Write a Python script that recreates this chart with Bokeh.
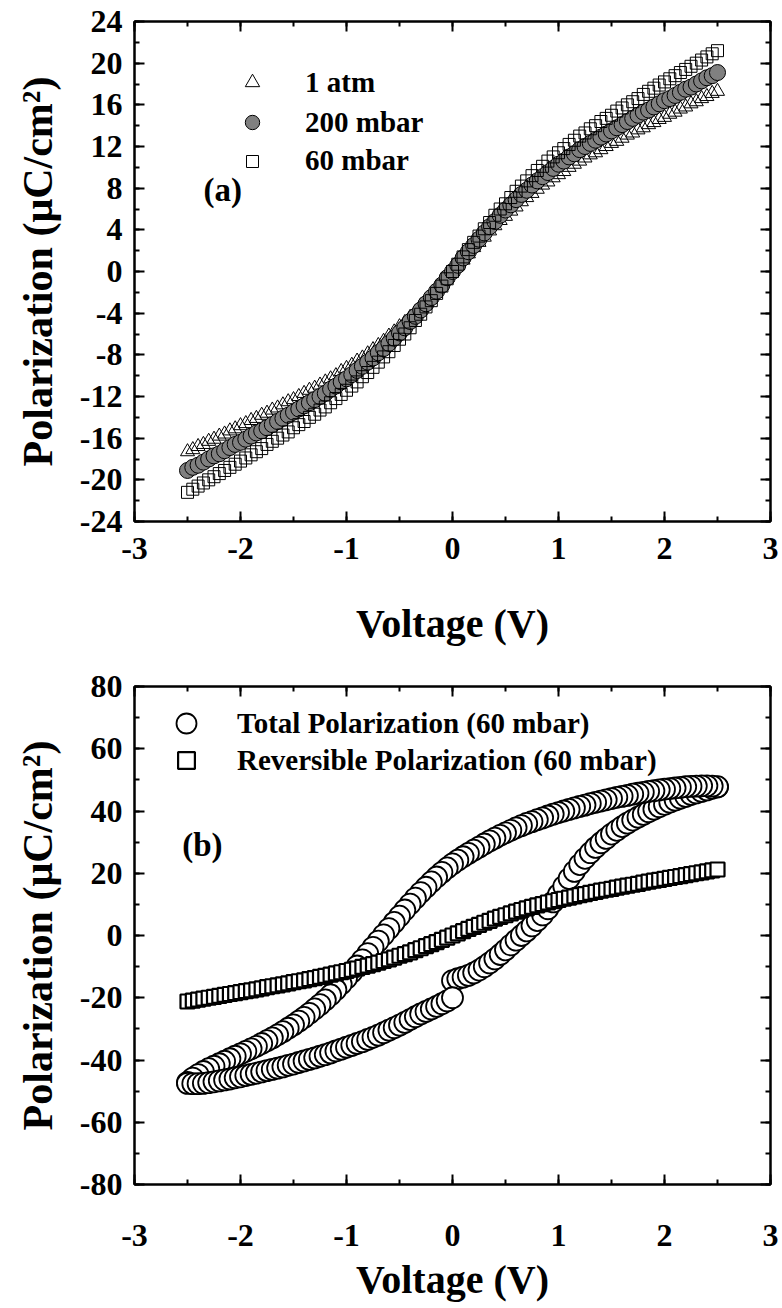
from bokeh.plotting import figure
from bokeh.models import (Range1d, SingleIntervalTicker, LinearAxis, Legend,
                          LegendItem, Label, ColumnDataSource,
                          PrintfTickFormatter, CustomJSTickFormatter)
from bokeh.layouts import column
from bokeh.embed import file_html
from bokeh.resources import INLINE

FONT = "Liberation Serif"

# ---------------- data ----------------
voltage = [-2.5, -2.45, -2.4, -2.35, -2.3, -2.25, -2.2, -2.15, -2.1, -2.05,
           -2.0, -1.95, -1.9, -1.85, -1.8, -1.75, -1.7, -1.65, -1.6, -1.55,
           -1.5, -1.45, -1.4, -1.35, -1.3, -1.25, -1.2, -1.15, -1.1, -1.05,
           -1.0, -0.95, -0.9, -0.85, -0.8, -0.75, -0.7, -0.65, -0.6, -0.55,
           -0.5, -0.45, -0.4, -0.35, -0.3, -0.25, -0.2, -0.15, -0.1, -0.05,
           0.0, 0.05, 0.1, 0.15, 0.2, 0.25, 0.3, 0.35, 0.4, 0.45,
           0.5, 0.55, 0.6, 0.65, 0.7, 0.75, 0.8, 0.85, 0.9, 0.95,
           1.0, 1.05, 1.1, 1.15, 1.2, 1.25, 1.3, 1.35, 1.4, 1.45,
           1.5, 1.55, 1.6, 1.65, 1.7, 1.75, 1.8, 1.85, 1.9, 1.95,
           2.0, 2.05, 2.1, 2.15, 2.2, 2.25, 2.3, 2.35, 2.4, 2.45, 2.5]

p_1atm = [-17.3, -17.1, -16.8, -16.6, -16.3, -16.1, -15.8, -15.6, -15.3, -15.1,
          -14.8, -14.6, -14.3, -14.1, -13.8, -13.6, -13.3, -13.1, -12.8, -12.5,
          -12.3, -12.0, -11.7, -11.4, -11.2, -10.9, -10.6, -10.3, -10.0, -9.6,
          -9.3, -9.0, -8.6, -8.3, -7.9, -7.5, -7.1, -6.7, -6.2, -5.8,
          -5.3, -4.9, -4.4, -3.9, -3.3, -2.8, -2.3, -1.7, -1.1, -0.6,
          0.0, 0.6, 1.1, 1.7, 2.3, 2.8, 3.3, 3.9, 4.4, 4.9,
          5.3, 5.8, 6.2, 6.7, 7.1, 7.5, 7.9, 8.3, 8.6, 9.0,
          9.3, 9.6, 10.0, 10.3, 10.6, 10.9, 11.2, 11.4, 11.7, 12.0,
          12.3, 12.5, 12.8, 13.1, 13.3, 13.6, 13.8, 14.1, 14.3, 14.6,
          14.8, 15.1, 15.3, 15.6, 15.8, 16.1, 16.3, 16.6, 16.8, 17.1, 17.3]

p_200mbar = [-19.1, -18.8, -18.6, -18.3, -18.0, -17.7, -17.5, -17.2, -16.9, -16.6,
             -16.4, -16.1, -15.8, -15.5, -15.3, -15.0, -14.7, -14.4, -14.1, -13.8,
             -13.5, -13.2, -12.9, -12.6, -12.3, -12.0, -11.7, -11.3, -11.0, -10.6,
             -10.3, -9.9, -9.5, -9.1, -8.7, -8.3, -7.8, -7.4, -6.9, -6.4,
             -5.9, -5.4, -4.8, -4.3, -3.7, -3.1, -2.5, -1.9, -1.3, -0.6,
             0.0, 0.6, 1.3, 1.9, 2.5, 3.1, 3.7, 4.3, 4.8, 5.4,
             5.9, 6.4, 6.9, 7.4, 7.8, 8.3, 8.7, 9.1, 9.5, 9.9,
             10.3, 10.6, 11.0, 11.3, 11.7, 12.0, 12.3, 12.6, 12.9, 13.2,
             13.5, 13.8, 14.1, 14.4, 14.7, 15.0, 15.3, 15.5, 15.8, 16.1,
             16.4, 16.6, 16.9, 17.2, 17.5, 17.7, 18.0, 18.3, 18.6, 18.8, 19.1]

p_60mbar = [-21.2, -20.9, -20.6, -20.3, -20.0, -19.7, -19.4, -19.1, -18.8, -18.5,
            -18.2, -17.9, -17.6, -17.3, -17.0, -16.6, -16.3, -16.0, -15.7, -15.4,
            -15.0, -14.7, -14.4, -14.0, -13.7, -13.3, -13.0, -12.6, -12.2, -11.8,
            -11.4, -11.0, -10.6, -10.1, -9.7, -9.2, -8.7, -8.2, -7.7, -7.1,
            -6.5, -6.0, -5.4, -4.7, -4.1, -3.4, -2.8, -2.1, -1.4, -0.7,
            0.0, 0.7, 1.4, 2.1, 2.8, 3.4, 4.1, 4.7, 5.4, 6.0,
            6.5, 7.1, 7.7, 8.2, 8.7, 9.2, 9.7, 10.1, 10.6, 11.0,
            11.4, 11.8, 12.2, 12.6, 13.0, 13.3, 13.7, 14.0, 14.4, 14.7,
            15.0, 15.4, 15.7, 16.0, 16.3, 16.6, 17.0, 17.3, 17.6, 17.9,
            18.2, 18.5, 18.8, 19.1, 19.4, 19.7, 20.0, 20.3, 20.6, 20.9, 21.2]

# total polarization loop (60 mbar), three sweeps
v_rise_pos = voltage[50:]          # 0 -> 2.5
p_rise_pos = [-14.5, -13.9, -13.4, -12.8, -12.0, -11.1, -10.0, -8.8, -7.5, -6.1,
              -4.6, -3.0, -1.5, 0.0, 1.5, 3.1, 4.8, 6.6, 8.6, 10.8,
              13.2, 15.8, 18.3, 20.6, 22.8, 24.8, 26.6, 28.3, 29.8, 31.2,
              32.6, 33.8, 35.0, 36.1, 37.1, 38.0, 38.9, 39.8, 40.6, 41.4,
              42.1, 42.8, 43.5, 44.1, 44.7, 45.3, 45.8, 46.3, 46.8, 47.3, 47.7]
v_fall = voltage[::-1]             # 2.5 -> -2.5
p_fall = [47.8, 48.0, 48.1, 48.1, 48.0, 47.9, 47.8, 47.6, 47.4, 47.2,
          47.0, 46.8, 46.5, 46.3, 46.0, 45.7, 45.4, 45.0, 44.7, 44.4,
          44.0, 43.6, 43.2, 42.8, 42.4, 41.9, 41.5, 41.0, 40.5, 40.0,
          39.5, 39.0, 38.4, 37.8, 37.2, 36.6, 36.0, 35.3, 34.6, 33.8,
          33.0, 32.2, 31.3, 30.4, 29.4, 28.4, 27.4, 26.4, 25.3, 24.2,
          23.0, 21.7, 20.3, 18.8, 17.2, 15.5, 13.8, 12.0, 10.1, 8.2,
          6.2, 4.2, 2.2, 0.2, -1.8, -3.8, -5.8, -7.8, -9.8, -11.8,
          -13.7, -15.6, -17.4, -19.1, -20.7, -22.2, -23.6, -25.0, -26.3, -27.5,
          -28.7, -29.8, -30.9, -31.9, -32.9, -33.8, -34.7, -35.6, -36.4, -37.2,
          -38.0, -38.8, -39.6, -40.4, -41.2, -42.0, -42.8, -43.7, -44.7, -45.8, -47.2]
v_rise_neg = voltage[:51]          # -2.5 -> 0
p_rise_neg = [-47.5, -47.6, -47.6, -47.5, -47.3, -47.0, -46.7, -46.4, -46.1, -45.7,
              -45.4, -45.0, -44.6, -44.2, -43.8, -43.4, -43.0, -42.6, -42.2, -41.7,
              -41.3, -40.8, -40.3, -39.8, -39.3, -38.8, -38.3, -37.7, -37.1, -36.5,
              -35.9, -35.3, -34.7, -34.1, -33.4, -32.7, -32.0, -31.2, -30.4, -29.6,
              -28.8, -27.9, -27.0, -26.1, -25.2, -24.4, -23.6, -22.8, -21.9, -21.0, -20.0]

v_total = v_rise_pos + v_fall + v_rise_neg
p_total = p_rise_pos + p_fall + p_rise_neg
p_reversible = p_60mbar

legend_a = ["1 atm", "200 mbar", "60 mbar"]
legend_b = ["Total Polarization (60 mbar)", "Reversible Polarization (60 mbar)"]
x_label = "Voltage (V)"
y_label = "Polarization (\u03bcC/cm\u00b2)"


def make_fig(height, ymin, ymax, yint, top, bottom, tick_standoff, title_standoff):
    p = figure(width=782, height=height, x_range=Range1d(-3, 3),
               y_range=Range1d(ymin, ymax), output_backend="svg",
               toolbar_location=None, min_border_left=134, min_border_right=12,
               min_border_top=top, min_border_bottom=bottom)
    p.xgrid.visible = False
    p.ygrid.visible = False
    p.outline_line_color = "black"
    p.outline_line_width = 2
    p.background_fill_color = "white"
    p.border_fill_color = "white"
    p.xaxis.ticker = SingleIntervalTicker(interval=1, num_minor_ticks=2)
    p.yaxis.ticker = SingleIntervalTicker(interval=yint, num_minor_ticks=2)
    p.xaxis.formatter = PrintfTickFormatter(format="%d")
    p.yaxis.formatter = PrintfTickFormatter(format="%d")
    blank = CustomJSTickFormatter(code="return ''")
    top_ax = LinearAxis(ticker=SingleIntervalTicker(interval=1, num_minor_ticks=2),
                        formatter=blank)
    right_ax = LinearAxis(ticker=SingleIntervalTicker(interval=yint, num_minor_ticks=2),
                          formatter=blank)
    p.add_layout(top_ax, "above")
    p.add_layout(right_ax, "right")
    for ax in (top_ax, right_ax):
        ax.major_label_standoff = 0
    for ax in p.xaxis + p.yaxis + [top_ax, right_ax]:
        ax.axis_line_width = 2
        ax.major_tick_in = 10
        ax.major_tick_out = 0
        ax.minor_tick_in = 5
        ax.minor_tick_out = 0
        ax.major_tick_line_width = 2
        ax.minor_tick_line_width = 2
        ax.major_label_text_font = FONT
        ax.major_label_text_font_style = "bold"
        ax.major_label_text_color = "black"
        ax.axis_label_text_font = FONT
        ax.axis_label_text_font_style = "bold"
        ax.axis_label_text_color = "black"
    bx = p.below[0]
    ly = p.left[0]
    bx.major_label_text_font_size = "32px"
    ly.major_label_text_font_size = "32px"
    bx.major_label_standoff = tick_standoff
    ly.major_label_standoff = 12
    bx.axis_label = x_label
    ly.axis_label = y_label
    bx.axis_label_text_font_size = "40px"
    ly.axis_label_text_font_size = "42px"
    bx.axis_label_standoff = title_standoff
    ly.axis_label_standoff = 16
    return p


def single_legend(p, label, renderer, g, vx, vy, standoff):
    leg = Legend(items=[LegendItem(label=label, renderers=[renderer])],
                 location=(vx, vy), glyph_width=g, glyph_height=g,
                 label_height=10, label_standoff=standoff, padding=0,
                 margin=0, spacing=0, border_line_color=None,
                 background_fill_alpha=0, label_text_font=FONT,
                 label_text_font_style="bold", label_text_font_size="29px",
                 label_text_color="black")
    p.add_layout(leg)


# ---------------- panel (a) ----------------
pa = make_fig(660, -24, 24, 4, 21, 139, 16, 39)
src_a = ColumnDataSource(dict(v=voltage, a=p_1atm, b=p_200mbar, c=p_60mbar))
r_tri = pa.scatter("v", "a", source=src_a, marker="triangle", size=14,
                   fill_color=None, line_color="black", line_width=1)
r_cir = pa.scatter("v", "b", source=src_a, marker="circle", size=16,
                   fill_color="#808080", line_color="black", line_width=1)
r_sq = pa.scatter("v", "c", source=src_a, marker="square", size=12,
                  fill_color=None, line_color="black", line_width=1)
single_legend(pa, legend_a[0], r_tri, 36, 100, 421, 35)
single_legend(pa, legend_a[1], r_cir, 36, 100, 381, 35)
single_legend(pa, legend_a[2], r_sq, 30, 103, 344, 38)
pa.add_layout(Label(x=-2.35, y=7.8, text="(a)", text_font=FONT,
                    text_font_style="bold", text_font_size="33px",
                    text_baseline="middle", text_align="left", text_color="black"))

# ---------------- panel (b) ----------------
pb = make_fig(648, -80, 80, 20, 26, 124, 40, 8)
src_t = ColumnDataSource(dict(v=v_total, p=p_total))
src_r = ColumnDataSource(dict(v=voltage, p=p_reversible))
r_tot = pb.scatter("v", "p", source=src_t, marker="circle", size=21,
                   fill_color="white", line_color="black", line_width=1.8)
r_rev = pb.scatter("v", "p", source=src_r, marker="square", size=14,
                   fill_color="white", line_color="black", line_width=2.2)
single_legend(pb, legend_b[0], r_tot, 50, 27, 436, 26)
single_legend(pb, legend_b[1], r_rev, 42, 31, 403, 30)
pb.add_layout(Label(x=-2.55, y=29.1, text="(b)", text_font=FONT,
                    text_font_style="bold", text_font_size="33px",
                    text_baseline="middle", text_align="left", text_color="black"))

layout = column(pa, pb, spacing=0)
open("out.html", "w").write(file_html(layout, INLINE))
